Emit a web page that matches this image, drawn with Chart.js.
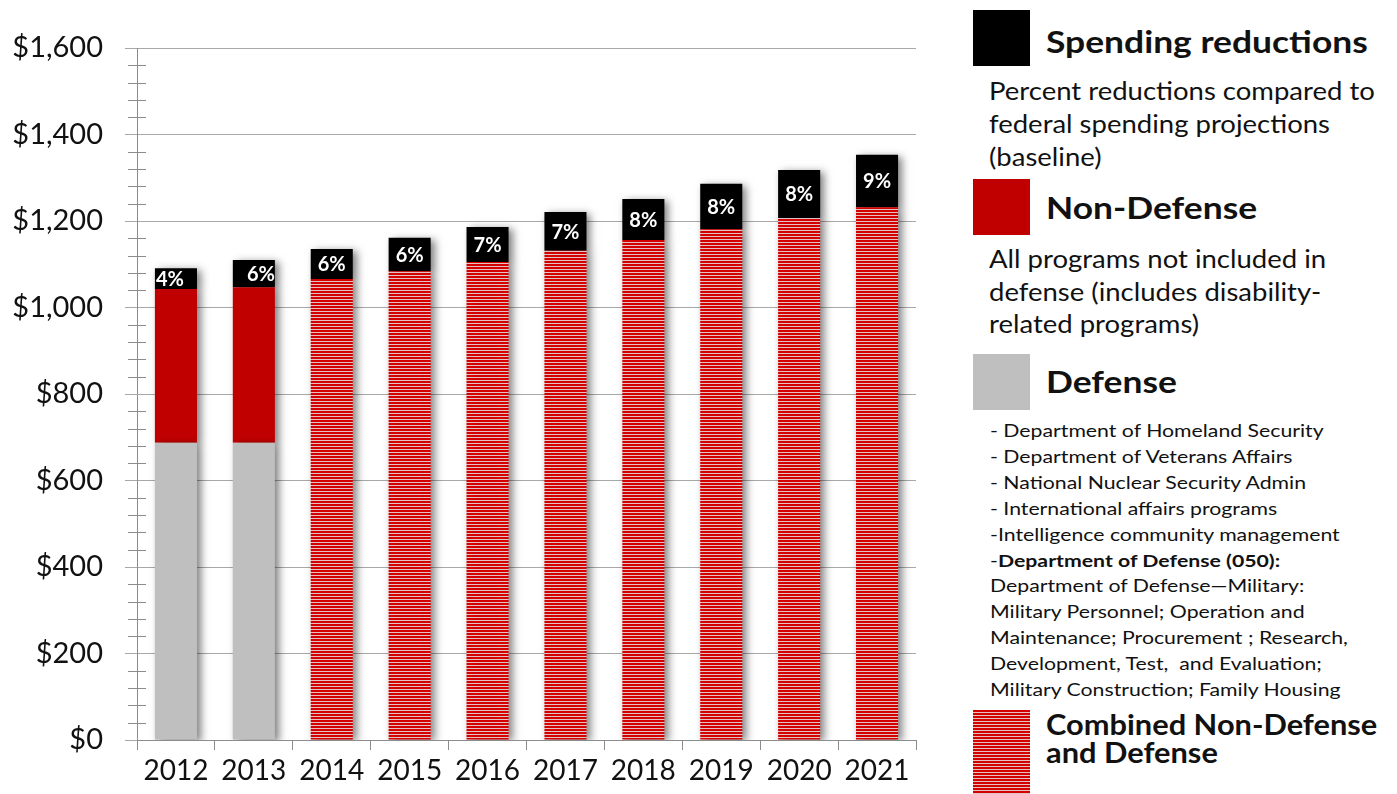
<!DOCTYPE html>
<html>
<head>
<meta charset="utf-8">
<script src="https://cdn.jsdelivr.net/npm/chart.js@4"></script>
<style>
  html, body { margin:0; padding:0; background:#ffffff; }
  body { width:1397px; height:794px; position:relative; overflow:hidden; font-family: Lato, "Open Sans", sans-serif; color:#111; }
  #wrap { position:absolute; left:0; top:0; width:960px; height:794px; }
  .sq { position:absolute; left:973px; width:57px; }
  .t { position:absolute; white-space:nowrap; transform-origin:0 0; }
  .title { font-weight:700; font-size:30px; line-height:36px; left:1046px; transform:scaleX(1.18); }
  .desc { font-size:25px; line-height:33px; left:989px; transform:scaleX(1.10); }
  .list { font-size:17px; line-height:25.9px; left:990px; transform:scaleX(1.25); }
</style>
</head>
<body>
<div id="wrap"><canvas id="c" width="960" height="794"></canvas></div>

<div class="sq" style="top:10px;height:56px;background:#000;"></div>
<div class="t title" style="top:23px;">Spending reductions</div>
<div class="t desc" style="top:74px;">Percent reductions compared to<br>federal spending projections<br>(baseline)</div>

<div class="sq" style="top:179px;height:56px;background:#c00000;"></div>
<div class="t title" style="top:189px;">Non-Defense</div>
<div class="t desc" style="top:242px;line-height:32.5px;">All programs not included in<br>defense (includes disability-<br>related programs)</div>

<div class="sq" style="top:354px;height:56px;background:#bfbfbf;"></div>
<div class="t title" style="top:363px;">Defense</div>
<div class="t list" style="top:418px;">- Department of Homeland Security<br>- Department of Veterans Affairs<br>- National Nuclear Security Admin<br>- International affairs programs<br>-Intelligence community management<br>-<b>Department of Defense (050):</b><br>Department of Defense—Military:<br>Military Personnel; Operation and<br>Maintenance; Procurement ; Research,<br>Development, Test,&nbsp; and Evaluation;<br>Military Construction; Family Housing</div>

<div class="sq" style="top:710px;height:84px;background:repeating-linear-gradient(to bottom,#d40000 0px,#d40000 2px,#e2c2c2 2px,#e2c2c2 3px);"></div>
<div class="t" style="top:710px;left:1046px;font-weight:700;font-size:28px;line-height:28px;transform:scaleX(1.10);">Combined Non-Defense<br>and Defense</div>

<script>
// ---- data ----
const years = ['2012','2013','2014','2015','2016','2017','2018','2019','2020','2021'];
const defense     = [687, 687, null, null, null, null, null, null, null, null];
const nonDefense  = [356, 360, null, null, null, null, null, null, null, null];
const combined    = [null, null, 1066, 1084, 1105, 1131, 1156, 1181, 1207, 1232];
const reductions  = [48, 63, 69, 77, 81, 90, 95, 105, 111, 121];
const reductionPct = ['4%','6%','6%','6%','7%','7%','8%','8%','8%','9%'];
const yTicks = [0, 200, 400, 600, 800, 1000, 1200, 1400, 1600];
const labelAlign = ['left','right','center','center','center','center','center','center','center','center'];

// stripe pattern for combined bars
const pc = document.createElement('canvas');
pc.width = 4; pc.height = 3;
const pctx = pc.getContext('2d');
pctx.fillStyle = '#e2c2c2'; pctx.fillRect(0,0,4,3);
pctx.fillStyle = '#d40000'; pctx.fillRect(0,0,4,2);
const ctx = document.getElementById('c').getContext('2d');
const stripes = ctx.createPattern(pc, 'repeat');

const shadowPlugin = {
  id:'shadow',
  beforeDatasetsDraw(chart){
    const c = chart.ctx; c.save();
    c.shadowColor = 'rgba(0,0,0,0.5)';
    c.shadowBlur = 8; c.shadowOffsetX = 4; c.shadowOffsetY = 2;
  },
  afterDatasetsDraw(chart){ chart.ctx.restore(); }
};

const pctPlugin = {
  id:'pct',
  afterDatasetsDraw(chart){
    const c = chart.ctx;
    const meta = chart.getDatasetMeta(3);
    c.save();
    c.fillStyle = '#ffffff';
    c.font = 'bold 20px Lato, sans-serif';
    c.textBaseline = 'middle';
    meta.data.forEach((el, i) => {
      const cy = (el.y + el.base) / 2;
      const a = labelAlign[i];
      c.textAlign = a;
      let x = el.x;
      if (a === 'left') x = el.x - el.width/2 + 1;
      if (a === 'right') x = el.x + el.width/2;
      c.fillText(reductionPct[i], x, cy + 1);
    });
    c.restore();
  }
};

const minorTicks = {
  id:'minor',
  afterDraw(chart){
    const y = chart.scales.y; const c = chart.ctx;
    const x0 = chart.chartArea.left;
    c.save(); c.strokeStyle = '#8c8c8c'; c.lineWidth = 1;
    for (let v = 0; v <= 1600; v += 40) {
      if (v % 200 === 0) continue;
      const py = Math.round(y.getPixelForValue(v)) + 0.5;
      c.beginPath(); c.moveTo(x0 - 9, py); c.lineTo(x0 + 9, py); c.stroke();
    }
    c.restore();
  }
};

new Chart(ctx, {
  type:'bar',
  data:{
    labels: years,
    datasets:[
      { label:'Defense', data: defense, backgroundColor:'#bfbfbf' },
      { label:'Non-Defense', data: nonDefense, backgroundColor:'#c00000' },
      { label:'Combined Non-Defense and Defense', data: combined, backgroundColor: stripes },
      { label:'Spending reductions', data: reductions, backgroundColor:'#000000' }
    ]
  },
  options:{
    responsive:false,
    animation:false,
    events:[],
    layout:{ padding:{ top:48, right:44, left:0, bottom:0 } },
    datasets:{ bar:{ barPercentage:0.54, categoryPercentage:1.0, borderWidth:0 } },
    plugins:{ legend:{ display:false }, tooltip:{ enabled:false } },
    scales:{
      x:{
        stacked:true,
        afterFit(s){ s.height = 54; },
        grid:{ drawOnChartArea:false, offset:true, tickLength:10, color:'#8c8c8c' },
        border:{ color:'#8c8c8c' },
        ticks:{ color:'#111', font:{ family:'Lato', size:28 }, padding:4, maxRotation:0 }
      },
      y:{
        stacked:true, min:0, max:1600,
        afterFit(s){ s.width = 137; },
        afterBuildTicks(s){ s.ticks = yTicks.map(v => ({ value:v })); },
        grid:{ color:'#a8a8a8', tickLength:12 },
        border:{ color:'#8c8c8c' },
        ticks:{ color:'#111', font:{ family:'Lato', size:29 }, padding:22,
          callback:(v) => '$' + v.toLocaleString('en-US') }
      }
    }
  },
  plugins:[shadowPlugin, pctPlugin, minorTicks]
});
</script>
</body>
</html>
